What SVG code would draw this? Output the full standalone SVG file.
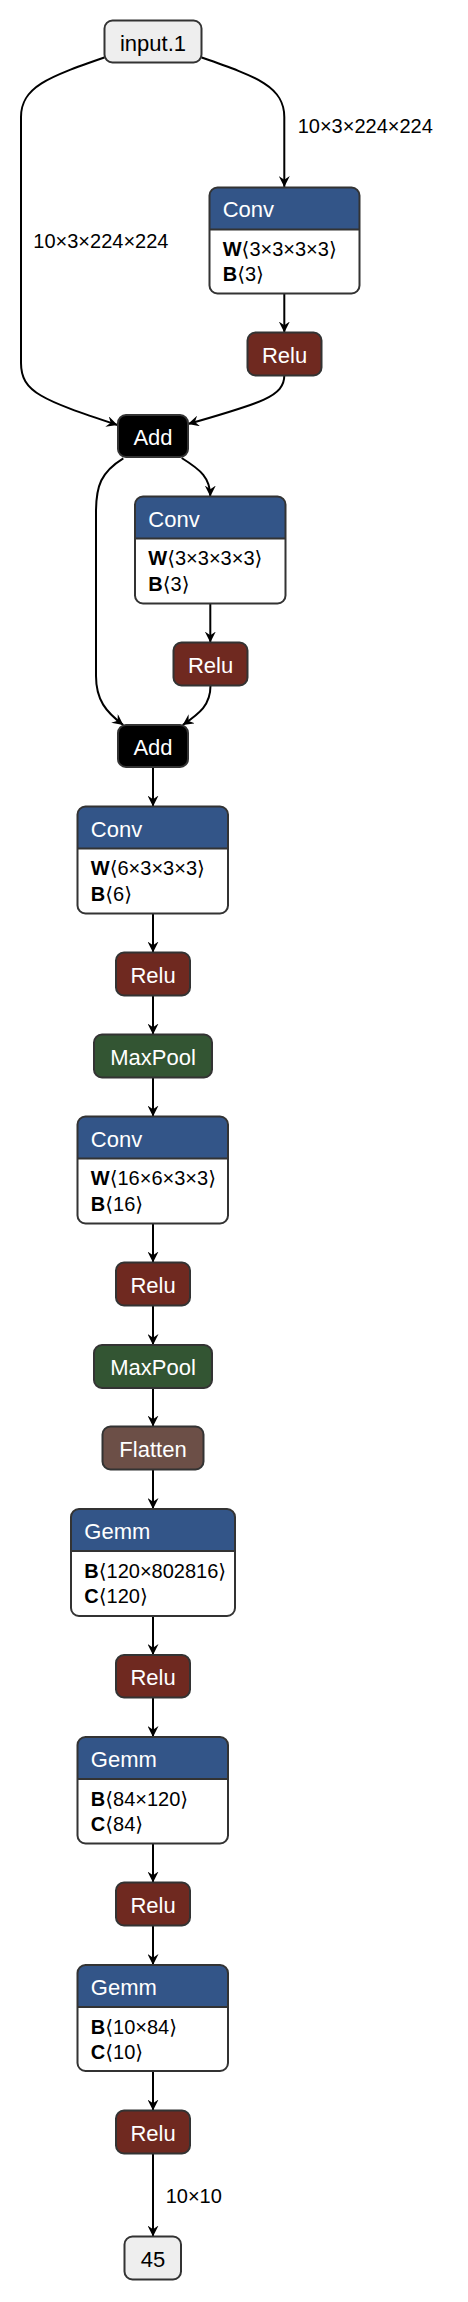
<svg xmlns="http://www.w3.org/2000/svg" width="468" height="2302" viewBox="0 0 468 2302">
<style>
.hdr{fill:#335588}
.box{fill:none;stroke:#333;stroke-width:2}
.body{fill:#fff}
.sep{stroke:#333;stroke-width:2}
.nd{stroke:#333;stroke-width:2}
.relu{fill:#6f2920}
.add{fill:#000}
.pool{fill:#335533}
.flat{fill:#6c4f47}
.io{fill:#eee}
.tw{font-family:"Liberation Sans","DejaVu Sans",sans-serif;font-size:22px;fill:#fff;text-anchor:middle}
.tb{font-family:"Liberation Sans","DejaVu Sans",sans-serif;font-size:22px;fill:#000;text-anchor:middle}
.th{font-family:"Liberation Sans","DejaVu Sans",sans-serif;font-size:22px;fill:#fff}
.ta{font-family:"Liberation Sans","DejaVu Sans",sans-serif;font-size:20px;fill:#000}
.ta tspan.k{font-weight:bold}
.el{font-family:"Liberation Sans","DejaVu Sans",sans-serif;font-size:20px;fill:#000}
.e{fill:none;stroke:#000;stroke-width:2;marker-end:url(#arr)}
</style>
<defs>
<marker id="arr" markerUnits="userSpaceOnUse" viewBox="0 0 10 10" markerWidth="11" markerHeight="11" refX="10" refY="5" orient="auto">
<path d="M0,0 L10,5 L0,10 L3.5,5 z" fill="#000"/>
</marker>
</defs>
<g id="edges">
<path class="e" d="M201.7,57.5 C258,77 284.3,87 284.3,117 L284.3,187"/>
<path class="e" d="M104.3,57.5 C48,77 21,87 21,117 L21,363 C21,392 42,400 117.5,425"/>
<path class="e" d="M284.3,293.5 L284.3,332.5"/>
<path class="e" d="M284.3,375.5 C284.3,396 262,403 188,424"/>
<path class="e" d="M181.7,458 C201,470 210.3,478 210.3,496.5"/>
<path class="e" d="M123.3,458.3 C101,472 96,486 96,512 L96,676 C96,700 106,712 123.3,725"/>
<path class="e" d="M210.3,603.5 L210.3,642.5"/>
<path class="e" d="M210.5,685.5 C210.5,705 200,713 182.7,725"/>
<path class="e" d="M153,767 L153,806.5"/>
<path class="e" d="M153,913.5 L153,952.5"/>
<path class="e" d="M153,995.5 L153,1034.5"/>
<path class="e" d="M153,1077.5 L153,1116.5"/>
<path class="e" d="M153,1223.5 L153,1262.5"/>
<path class="e" d="M153,1305.5 L153,1345"/>
<path class="e" d="M153,1388 L153,1426.5"/>
<path class="e" d="M153,1469.5 L153,1509"/>
<path class="e" d="M153,1616 L153,1655"/>
<path class="e" d="M153,1697.5 L153,1737"/>
<path class="e" d="M153,1843.5 L153,1882.5"/>
<path class="e" d="M153,1925.5 L153,1965"/>
<path class="e" d="M153,2071 L153,2110.5"/>
<path class="e" d="M153,2153.5 L153,2236.5"/>
<text class="el" x="297.7" y="132.7">10×3×224×224</text>
<text class="el" x="33.3" y="247.5">10×3×224×224</text>
<text class="el" x="165.7" y="2203.3">10×10</text>
</g>
<g id="input">
<rect class="io nd" x="104.5" y="20.5" width="97" height="42" rx="8"/>
<text class="tb" x="153" y="50.5">input.1</text>
</g>
<g id="conv1">
<rect class="body" x="209.5" y="187.5" width="150" height="106" rx="8"/>
<path class="hdr" d="M209.5,229.5 V195.5 A8,8 0 0 1 217.5,187.5 H351.5 A8,8 0 0 1 359.5,195.5 V229.5 Z"/>
<line class="sep" x1="209.5" y1="229.5" x2="359.5" y2="229.5"/>
<rect class="box" x="209.5" y="187.5" width="150" height="106" rx="8"/>
<text class="th" x="222.7" y="217">Conv</text>
<text class="ta" x="222.7" y="255.5"><tspan class="k">W</tspan>⟨3×3×3×3⟩</text>
<text class="ta" x="222.7" y="281"><tspan class="k">B</tspan>⟨3⟩</text>
</g>
<g id="relu1">
<rect class="relu nd" x="247.5" y="332.5" width="74" height="43" rx="8"/>
<text class="tw" x="284.5" y="362.5">Relu</text>
</g>
<g id="add1">
<rect class="add nd" x="118" y="415" width="70" height="42" rx="8"/>
<text class="tw" x="153" y="445">Add</text>
</g>
<g id="conv2">
<rect class="body" x="135" y="496.5" width="150.5" height="107" rx="8"/>
<path class="hdr" d="M135,538.5 V504.5 A8,8 0 0 1 143,496.5 H277.5 A8,8 0 0 1 285.5,504.5 V538.5 Z"/>
<line class="sep" x1="135" y1="538.5" x2="285.5" y2="538.5"/>
<rect class="box" x="135" y="496.5" width="150.5" height="107" rx="8"/>
<text class="th" x="148.3" y="526.5">Conv</text>
<text class="ta" x="148.3" y="565"><tspan class="k">W</tspan>⟨3×3×3×3⟩</text>
<text class="ta" x="148.3" y="590.5"><tspan class="k">B</tspan>⟨3⟩</text>
</g>
<g id="relu2">
<rect class="relu nd" x="173.5" y="642.5" width="74" height="43" rx="8"/>
<text class="tw" x="210.5" y="672.5">Relu</text>
</g>
<g id="add2">
<rect class="add nd" x="118" y="725" width="70" height="42" rx="8"/>
<text class="tw" x="153" y="755">Add</text>
</g>
<g id="conv3">
<rect class="body" x="77.5" y="806.5" width="150.5" height="107" rx="8"/>
<path class="hdr" d="M77.5,848.5 V814.5 A8,8 0 0 1 85.5,806.5 H220 A8,8 0 0 1 228,814.5 V848.5 Z"/>
<line class="sep" x1="77.5" y1="848.5" x2="228" y2="848.5"/>
<rect class="box" x="77.5" y="806.5" width="150.5" height="107" rx="8"/>
<text class="th" x="90.8" y="836.5">Conv</text>
<text class="ta" x="90.8" y="875"><tspan class="k">W</tspan>⟨6×3×3×3⟩</text>
<text class="ta" x="90.8" y="900.5"><tspan class="k">B</tspan>⟨6⟩</text>
</g>
<g id="relu3">
<rect class="relu nd" x="116" y="952.5" width="74" height="43" rx="8"/>
<text class="tw" x="153" y="982.5">Relu</text>
</g>
<g id="maxpool1">
<rect class="pool nd" x="94" y="1034.5" width="118" height="43" rx="8"/>
<text class="tw" x="153" y="1064.5">MaxPool</text>
</g>
<g id="conv4">
<rect class="body" x="77.5" y="1116.5" width="150.5" height="107" rx="8"/>
<path class="hdr" d="M77.5,1158.5 V1124.5 A8,8 0 0 1 85.5,1116.5 H220 A8,8 0 0 1 228,1124.5 V1158.5 Z"/>
<line class="sep" x1="77.5" y1="1158.5" x2="228" y2="1158.5"/>
<rect class="box" x="77.5" y="1116.5" width="150.5" height="107" rx="8"/>
<text class="th" x="90.8" y="1146.5">Conv</text>
<text class="ta" x="90.8" y="1185"><tspan class="k">W</tspan>⟨16×6×3×3⟩</text>
<text class="ta" x="90.8" y="1210.5"><tspan class="k">B</tspan>⟨16⟩</text>
</g>
<g id="relu4">
<rect class="relu nd" x="116" y="1262.5" width="74" height="43" rx="8"/>
<text class="tw" x="153" y="1292.5">Relu</text>
</g>
<g id="maxpool2">
<rect class="pool nd" x="94" y="1345" width="118" height="43" rx="8"/>
<text class="tw" x="153" y="1375">MaxPool</text>
</g>
<g id="flatten">
<rect class="flat nd" x="102.5" y="1426.5" width="101" height="43" rx="8"/>
<text class="tw" x="153" y="1456.5">Flatten</text>
</g>
<g id="gemm1">
<rect class="body" x="71" y="1509" width="164" height="107" rx="8"/>
<path class="hdr" d="M71,1551 V1517 A8,8 0 0 1 79,1509 H227 A8,8 0 0 1 235,1517 V1551 Z"/>
<line class="sep" x1="71" y1="1551" x2="235" y2="1551"/>
<rect class="box" x="71" y="1509" width="164" height="107" rx="8"/>
<text class="th" x="84.3" y="1539">Gemm</text>
<text class="ta" x="84.3" y="1577.5"><tspan class="k">B</tspan>⟨120×802816⟩</text>
<text class="ta" x="84.3" y="1603"><tspan class="k">C</tspan>⟨120⟩</text>
</g>
<g id="relu5">
<rect class="relu nd" x="116" y="1655" width="74" height="42.5" rx="8"/>
<text class="tw" x="153" y="1685">Relu</text>
</g>
<g id="gemm2">
<rect class="body" x="77.5" y="1737" width="150.5" height="106.5" rx="8"/>
<path class="hdr" d="M77.5,1779 V1745 A8,8 0 0 1 85.5,1737 H220 A8,8 0 0 1 228,1745 V1779 Z"/>
<line class="sep" x1="77.5" y1="1779" x2="228" y2="1779"/>
<rect class="box" x="77.5" y="1737" width="150.5" height="106.5" rx="8"/>
<text class="th" x="90.8" y="1767">Gemm</text>
<text class="ta" x="90.8" y="1805.5"><tspan class="k">B</tspan>⟨84×120⟩</text>
<text class="ta" x="90.8" y="1831"><tspan class="k">C</tspan>⟨84⟩</text>
</g>
<g id="relu6">
<rect class="relu nd" x="116" y="1882.5" width="74" height="43" rx="8"/>
<text class="tw" x="153" y="1912.5">Relu</text>
</g>
<g id="gemm3">
<rect class="body" x="77.5" y="1965" width="150.5" height="106" rx="8"/>
<path class="hdr" d="M77.5,2007 V1973 A8,8 0 0 1 85.5,1965 H220 A8,8 0 0 1 228,1973 V2007 Z"/>
<line class="sep" x1="77.5" y1="2007" x2="228" y2="2007"/>
<rect class="box" x="77.5" y="1965" width="150.5" height="106" rx="8"/>
<text class="th" x="90.8" y="1995">Gemm</text>
<text class="ta" x="90.8" y="2033.5"><tspan class="k">B</tspan>⟨10×84⟩</text>
<text class="ta" x="90.8" y="2059"><tspan class="k">C</tspan>⟨10⟩</text>
</g>
<g id="relu7">
<rect class="relu nd" x="116" y="2110.5" width="74" height="43" rx="8"/>
<text class="tw" x="153" y="2140.5">Relu</text>
</g>
<g id="output">
<rect class="io nd" x="124.5" y="2236.5" width="56.5" height="43" rx="8"/>
<text class="tb" x="153" y="2266.5">45</text>
</g>
</svg>
